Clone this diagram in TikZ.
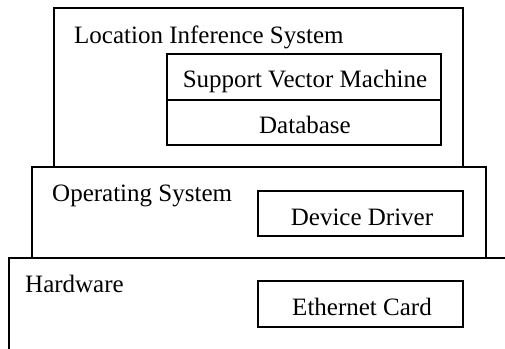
\documentclass[tikz,border=0pt]{standalone}
\usepackage{fontspec}
\setmainfont{Liberation Serif}
\begin{document}
\begin{tikzpicture}[x=1pt,y=-1pt,
  frame/.style={draw=black,line width=1.3pt},
  lbl/.style={font=\fontsize{25}{28}\selectfont,inner sep=0pt}]
\useasboundingbox (0,0) rectangle (505,348);
% Location Inference System layer
\draw[frame] (54,167) -- (54,8) -- (463,8) -- (463,167);
\node[lbl,anchor=base west] (lis) at (74,43) {Location Inference System};
\draw[frame] (167,54) rectangle (441,145);
\draw[frame] (167,100) -- (441,100);
\node[lbl,anchor=base] (svm) at (305,87) {Support Vector Machine};
\node[lbl,anchor=base] (db) at (305,133) {Database};
% Operating System layer
\draw[frame] (32,258) -- (32,167) -- (486,167) -- (486,258);
\node[lbl,anchor=base west] (os) at (52,201) {Operating System};
\draw[frame] (258,191) rectangle (463,236);
\node[lbl,anchor=base] (dd) at (362,225) {Device Driver};
% Hardware layer
\draw[frame] (9,349) -- (9,258) -- (506,258);
\node[lbl,anchor=base west] (hw) at (25,292) {Hardware};
\draw[frame] (258,281) rectangle (463,327);
\node[lbl,anchor=base] (ec) at (362,315) {Ethernet Card};
\end{tikzpicture}
\end{document}
